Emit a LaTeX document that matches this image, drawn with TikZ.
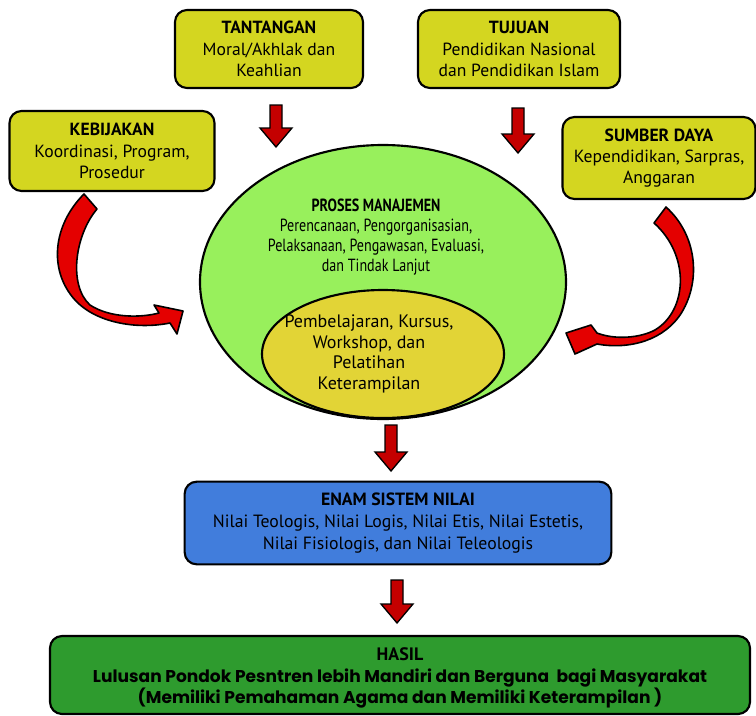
\documentclass[tikz,border=0pt]{standalone}
\usepackage{fontspec}
\setmainfont{PT Sans}
\newfontfamily\roundfont{Poppins}
\newfontfamily\narrowfont{PT Sans}[FakeStretch=0.8]
\usetikzlibrary{shapes.geometric,calc}
\definecolor{kyellow}{HTML}{D4D620}
\definecolor{kgreen}{HTML}{98F05C}
\definecolor{kinner}{HTML}{E2D436}
\definecolor{kblue}{HTML}{417DDC}
\definecolor{khasil}{HTML}{2E9B2E}
\definecolor{kred}{HTML}{C40000}
\definecolor{kcurve}{HTML}{E40000}
\tikzset{
  ybox/.style={draw=black,fill=kyellow,rounded corners=9pt,line width=1.6pt,align=center,font=\fontsize{13.2}{16}\selectfont,inner sep=2pt},
  bbox/.style={draw=black,fill=kblue,rounded corners=9pt,line width=1.6pt,align=center,font=\fontsize{13.3}{16.2}\selectfont,inner sep=2pt},
  gbox/.style={draw=black,fill=khasil,rounded corners=9pt,line width=1.6pt,inner sep=0pt},
  oval/.style={ellipse,draw=black,line width=1.6pt,inner sep=0pt},
  txt/.style={align=center,font=\narrowfont\fontsize{13.2}{15}\selectfont},
  intxt/.style={align=center,font=\fontsize{13.5}{15.5}\selectfont},
  hasiltxt/.style={align=center,font=\roundfont\bfseries\fontsize{12.8}{16.4}\selectfont},
  blockarr/.style={fill=kred,draw=black,line width=1pt,line join=miter},
  curvearr/.style={fill=kcurve,draw=black,line width=1.2pt,line join=round},
}
% block arrow pointing down: #1 top of shaft, #2 tip
\newcommand{\blockarrow}[2]{%
  \filldraw[blockarr] ($(#1)+(-6,0)$) -- ($(#1)+(6,0)$) -- ($(#2)+(6,-19)$)
    -- ($(#2)+(16,-19)$) -- (#2) -- ($(#2)+(-16,-19)$) -- ($(#2)+(-6,-19)$) -- cycle;}

\begin{document}
\begin{tikzpicture}[x=0.75pt,y=-0.75pt]
  \useasboundingbox (0,0) rectangle (756,715);
  % top boxes
  \node[ybox,minimum width=141pt,minimum height=58.5pt] (tan) at (269,49) {\textbf{TANTANGAN}\\Moral/Akhlak dan\\Keahlian};
  \node[ybox,minimum width=151.5pt,minimum height=58.5pt] (tuj) at (519,49) {\textbf{TUJUAN}\\Pendidikan Nasional\\dan Pendidikan Islam};
  \node[ybox,minimum width=153.75pt,minimum height=60pt] (keb) at (112,151) {\textbf{KEBIJAKAN}\\Koordinasi, Program,\\Prosedur};
  \node[ybox,minimum width=144.75pt,minimum height=61.5pt] (sum) at (659,158) {\textbf{SUMBER DAYA}\\Kependidikan, Sarpras,\\Anggaran};
  % management process
  \node[oval,fill=kgreen,minimum width=274.5pt,minimum height=205.5pt] (proses) at (383,282) {};
  \node[oval,fill=kinner,minimum width=181.5pt,minimum height=96pt] (inti) at (383,354) {};
  \node[txt] (prosestxt) at (376,237) {\textbf{PROSES MANAJEMEN}\\Perencanaan, Pengorganisasian,\\Pelaksanaan, Pengawasan, Evaluasi,\\dan Tindak Lanjut};
  \node[intxt] (intitxt) at (369,354) {Pembelajaran, Kursus,\\Workshop, dan\\Pelatihan\\Keterampilan};
  % values and result
  \node[bbox,minimum width=320pt,minimum height=62pt] (nilai) at (398,523) {\textbf{ENAM SISTEM NILAI}\\Nilai Teologis, Nilai Logis, Nilai Etis, Nilai Estetis,\\Nilai Fisiologis, dan Nilai Teleologis};
  \node[gbox,minimum width=525pt,minimum height=58.5pt] (hasil) at (400,675) {};
  \node[hasiltxt] (hasiltext) at (400,678) {{\rmfamily\fontsize{13.5}{16}\selectfont\textbf{HASIL}}\\Lulusan Pondok Pesntren lebih Mandiri dan Berguna\ \ bagi Masyarakat\\(Memiliki Pemahaman Agama dan Memiliki Keterampilan )};
  % down arrows
  \coordinate (a1) at (276,105); \coordinate (b1) at (276,147);
  \coordinate (a2) at (518,108); \coordinate (b2) at (518,153);
  \coordinate (a3) at (391,425); \coordinate (b3) at (391,471);
  \coordinate (a4) at (397,580); \coordinate (b4) at (397,623);
  \blockarrow{a1}{b1}
  \blockarrow{a2}{b2}
  \blockarrow{a3}{b3}
  \blockarrow{a4}{b4}
  % curved arrows
  \filldraw[curvearr] (84,194) -- (97,209) .. controls (75,235) and (68,285) .. (90,305)
    .. controls (110,318) and (140,318) .. (159,313) -- (154,305) -- (183,311) -- (177,334) -- (170,323)
    .. controls (135,330) and (95,322) .. (75,300) .. controls (48,270) and (53,225) .. (84,194) -- cycle;
  \filldraw[curvearr] (666,207) -- (654,223) .. controls (690,255) and (688,310) .. (655,330)
    .. controls (640,338) and (615,340) .. (597,333) -- (591,325) -- (566,333) -- (575,354) -- (597,344)
    .. controls (630,350) and (665,340) .. (682,312) .. controls (701,280) and (697,235) .. (666,207) -- cycle;
\end{tikzpicture}
\end{document}
